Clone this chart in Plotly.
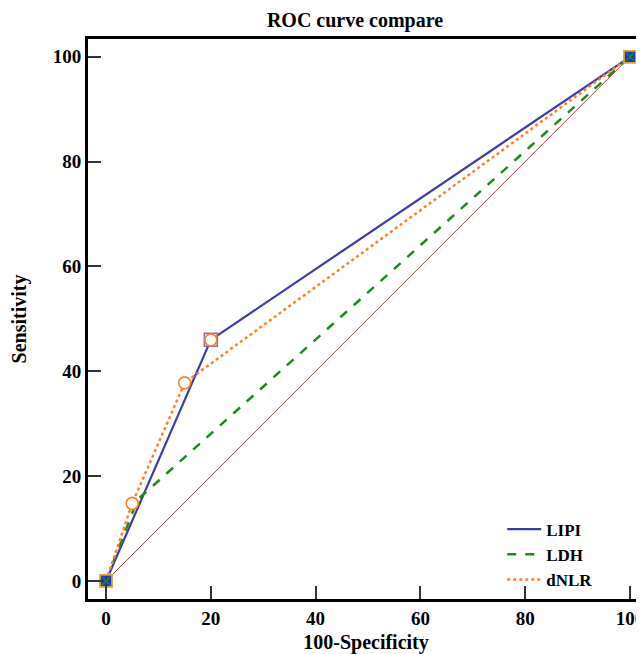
import plotly.graph_objects as go

# ROC points (100-Specificity, Sensitivity)
lipi_x = [0, 20, 100]
lipi_y = [0, 46, 100]
ldh_x = [0, 6, 100]
ldh_y = [0, 15.5, 100]
dnlr_x = [0, 5, 15, 100]
dnlr_y = [0, 14.8, 37.8, 100]
diag_x = [0, 100]
diag_y = [0, 100]
# operating-point markers
circle_x = [5, 15, 20]
circle_y = [14.8, 37.8, 46]
square_x = [20]
square_y = [46]
end_x = [0, 100]
end_y = [0, 100]

tick_vals = [0, 20, 40, 60, 80, 100]
tick_text = ["0", "20", "40", "60", "80", "100"]

FONT = "Liberation Serif, Times New Roman, serif"

fig = go.Figure()
fig.add_trace(go.Scatter(x=diag_x, y=diag_y, mode="lines",
                         line=dict(color="#A84848", width=1), showlegend=False, hoverinfo="skip"))
fig.add_trace(go.Scatter(x=lipi_x, y=lipi_y, mode="lines", name="LIPI",
                         line=dict(color="#3C3CA8", width=2.2)))
fig.add_trace(go.Scatter(x=ldh_x, y=ldh_y, mode="lines", name="LDH",
                         line=dict(color="#1A8C1A", width=2.5, dash="dash")))
fig.add_trace(go.Scatter(x=dnlr_x, y=dnlr_y, mode="lines", name="dNLR",
                         line=dict(color="#FF7F27", width=2.5, dash="dot")))
fig.add_trace(go.Scatter(x=square_x, y=square_y, mode="markers", showlegend=False,
                         marker=dict(symbol="square", size=13, color="rgba(255,235,245,0.6)",
                                     line=dict(color="#9A62A8", width=1.5))))
fig.add_trace(go.Scatter(x=circle_x, y=circle_y, mode="markers", showlegend=False,
                         marker=dict(symbol="circle", size=12, color="white",
                                     line=dict(color="#FF7F27", width=1.6))))
fig.add_trace(go.Scatter(x=end_x, y=end_y, mode="markers", showlegend=False,
                         marker=dict(symbol="square", size=12, color="#1838C8",
                                     line=dict(color="#E8A030", width=1.8))))
fig.add_trace(go.Scatter(x=end_x, y=end_y, mode="markers", showlegend=False,
                         marker=dict(symbol="x-thin", size=8, color="#1A8C1A",
                                     line=dict(color="#1A8C1A", width=1.5))))

fig.update_layout(
    width=636, height=646,
    margin=dict(l=80, r=0, t=31, b=55, autoexpand=False),
    paper_bgcolor="white", plot_bgcolor="white",
    font=dict(family=FONT, color="black"),
    title=dict(text="<b>ROC curve compare</b>", x=0.5456, xanchor="center",
               y=0.992, yanchor="top", font=dict(family=FONT, size=20, color="black")),
    legend=dict(x=0.745, y=0.156, xanchor="left", yanchor="top",
                bgcolor="rgba(0,0,0,0)",
                font=dict(family=FONT, size=17, color="black", weight="bold"),
                itemwidth=34, tracegroupgap=0),
    showlegend=True,
)
fig.update_xaxes(range=[-3.44, 102.67], tickvals=tick_vals, ticktext=tick_text,
                 ticks="inside", ticklen=13, tickwidth=2, tickcolor="#333",
                 showline=True, linewidth=3, linecolor="black", mirror=True,
                 showgrid=False, zeroline=False, automargin=False,
                 ticklabeloverflow="allow",
                 tickfont=dict(family=FONT, size=19, color="black", weight="bold"),
                 title=dict(text="<b>100-Specificity</b>", standoff=17,
                            font=dict(family=FONT, size=20, color="black")))
fig.update_yaxes(range=[-3.44, 103.4], tickvals=tick_vals, ticktext=tick_text,
                 ticks="inside", ticklen=13, tickwidth=2, tickcolor="#333",
                 showline=True, linewidth=3, linecolor="black", mirror=False,
                 showgrid=False, zeroline=False, automargin=False,
                 tickfont=dict(family=FONT, size=19, color="black", weight="bold"),
                 title=dict(text="<b>Sensitivity</b>", standoff=25,
                            font=dict(family=FONT, size=20, color="black")))

fig.write_html("out.html")
